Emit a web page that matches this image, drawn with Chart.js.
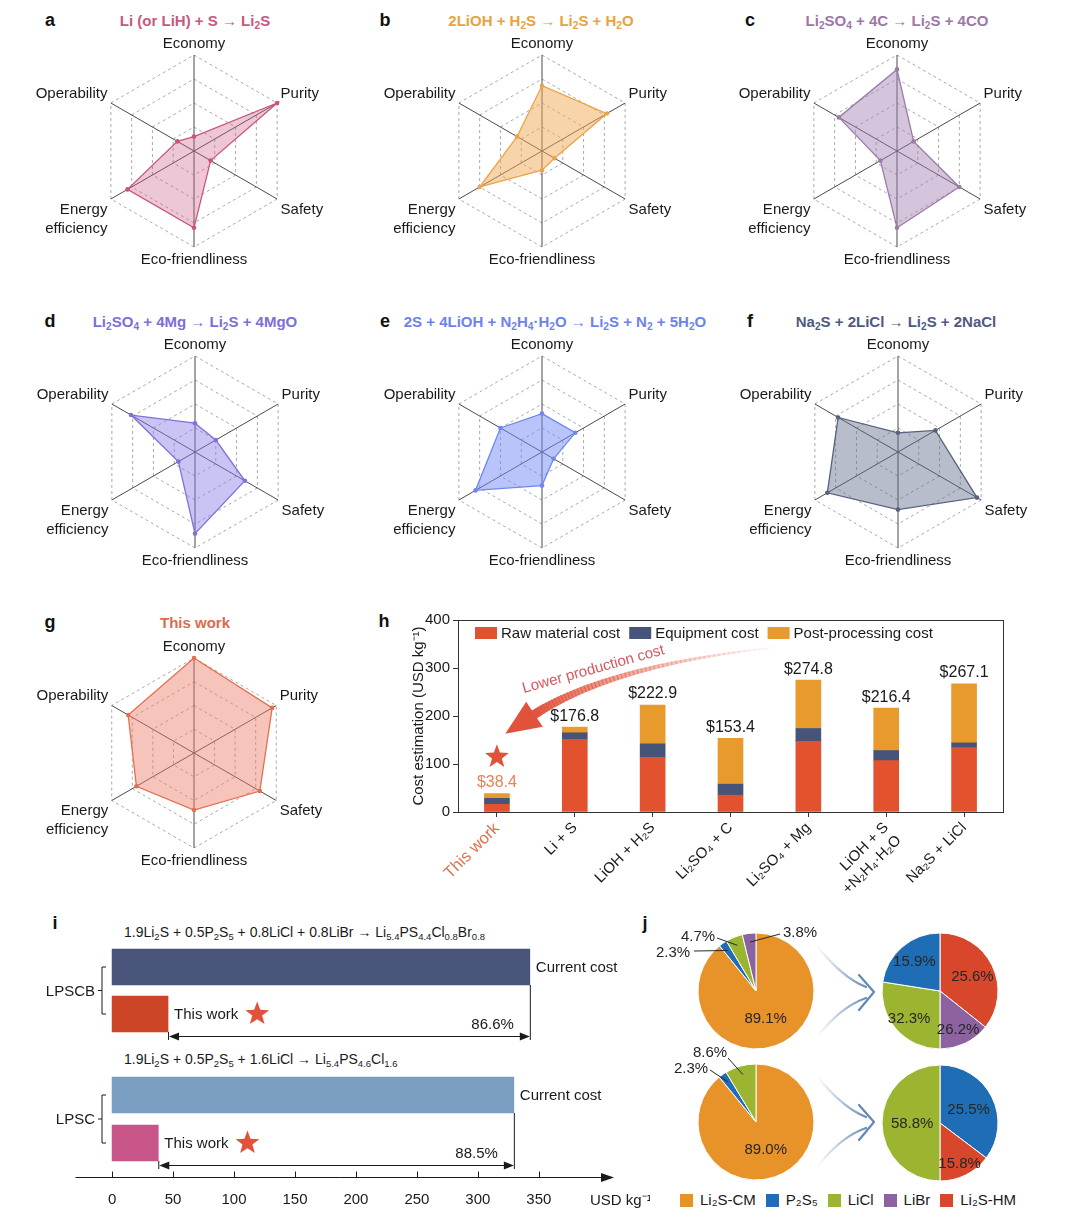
<!DOCTYPE html>
<html><head><meta charset="utf-8">
<script src="https://cdn.jsdelivr.net/npm/chart.js@4.4.1/dist/chart.umd.min.js"></script>
<style>
html,body{margin:0;padding:0;background:#fff;}
body{width:1080px;height:1220px;position:relative;overflow:hidden;font-family:"Liberation Sans",Arial,Helvetica,sans-serif;color:#1a1a1a;}
canvas{position:absolute;}
.t{position:absolute;white-space:nowrap;line-height:1;}
.lt{font-weight:bold;font-size:18px;color:#111;transform:translate(-50%,-50%);}
.ttl{font-weight:bold;font-size:15px;transform:translate(-50%,-50%);}
sub{font-size:68%;vertical-align:-0.3em;line-height:0;}
.fx{font-size:14px;transform:translateY(-50%);}
#jleg{position:absolute;left:680px;top:1191px;display:flex;align-items:center;font-size:15px;line-height:18px;}
#jleg .it{display:flex;align-items:center;margin-right:10px;}
#jleg .sq{width:13px;height:13px;margin-right:7px;}
svg{position:absolute;left:0;top:0;}
</style></head><body>

<div class="t lt" style="left:50px;top:20px">a</div>
<div class="t lt" style="left:385px;top:20px">b</div>
<div class="t lt" style="left:750px;top:20px">c</div>
<div class="t lt" style="left:50px;top:321px">d</div>
<div class="t lt" style="left:385px;top:321px">e</div>
<div class="t lt" style="left:750px;top:321px">f</div>
<div class="t lt" style="left:50px;top:622px">g</div>
<div class="t lt" style="left:384px;top:621px">h</div>
<div class="t lt" style="left:55px;top:923px">i</div>
<div class="t lt" style="left:645px;top:923px">j</div>

<div class="t ttl" style="left:195px;top:20px;color:#C9577F">Li (or LiH) + S → Li<sub>2</sub>S</div>
<div class="t ttl" style="left:541px;top:20px;color:#E8A33B">2LiOH + H<sub>2</sub>S → Li<sub>2</sub>S + H<sub>2</sub>O</div>
<div class="t ttl" style="left:897px;top:20px;color:#9D77A6">Li<sub>2</sub>SO<sub>4</sub> + 4C → Li<sub>2</sub>S + 4CO</div>
<div class="t ttl" style="left:195px;top:321px;color:#7B6FD8">Li<sub>2</sub>SO<sub>4</sub> + 4Mg → Li<sub>2</sub>S + 4MgO</div>
<div class="t ttl" style="left:555px;top:321px;color:#6C83EE">2S + 4LiOH + N<sub>2</sub>H<sub>4</sub>·H<sub>2</sub>O → Li<sub>2</sub>S + N<sub>2</sub> + 5H<sub>2</sub>O</div>
<div class="t ttl" style="left:896px;top:321px;color:#4F5A7F">Na<sub>2</sub>S + 2LiCl → Li<sub>2</sub>S + 2NaCl</div>
<div class="t ttl" style="left:195px;top:622px;color:#E06A4C">This work</div>

<div class="t fx" style="left:124px;top:932px">1.9Li<sub>2</sub>S + 0.5P<sub>2</sub>S<sub>5</sub> + 0.8LiCl + 0.8LiBr → Li<sub>5.4</sub>PS<sub>4.4</sub>Cl<sub>0.8</sub>Br<sub>0.8</sub></div>
<div class="t fx" style="left:124px;top:1059px">1.9Li<sub>2</sub>S + 0.5P<sub>2</sub>S<sub>5</sub> + 1.6LiCl → Li<sub>5.4</sub>PS<sub>4.6</sub>Cl<sub>1.6</sub></div>

<div id="jleg"></div>

<script>
// ---------------- DATA ----------------
const AXES = ['Economy', 'Purity', 'Safety', 'Eco-friendliness', ['Energy', 'efficiency'], 'Operability'];
const scoreA = [15, 100, 20, 80, 80, 20];
const scoreB = [68, 78, 15, 20, 75, 30];
const scoreC = [85, 20, 75, 80, 20, 70];
const scoreD = [30, 25, 60, 85, 20, 77];
const scoreE = [40, 40, 14, 35, 80, 50];
const scoreF = [20, 45, 95, 60, 85, 72];
const scoreG = [100, 95, 80, 60, 70, 80];

const routes = ['This work', 'Li + S', 'LiOH + H₂S', 'Li₂SO₄ + C', 'Li₂SO₄ + Mg', ['LiOH + S', '+N₂H₄·H₂O'], 'Na₂S + LiCl'];
const rawCost = [16, 151, 114, 35, 147, 107, 134];
const equipCost = [12.5, 14, 28, 23, 27, 21, 10];
const postCost = [9.9, 11.8, 80.9, 95.4, 100.8, 88.4, 123.1];
const costTicks = [0, 100, 200, 300, 400];

const iRows = ['Current cost', 'This work'];
const lpscbCost = [342.6, 45.9];
const lpscCost = [329.5, 37.9];
const iReduction = ['86.6%', '88.5%'];
const iGroups = ['LPSCB', 'LPSC'];
const iTicks = [0, 50, 100, 150, 200, 250, 300, 350];

const jLegend = ['Li₂S-CM', 'P₂S₅', 'LiCl', 'LiBr', 'Li₂S-HM'];
const lpscbMass = [89.1, 2.3, 4.7, 3.8];          // Li2S-CM, P2S5, LiCl, LiBr
const lpscbMassLbl = ['89.1%', '2.3%', '4.7%', '3.8%'];
const lpscbShare = [35.7, 14.3, 27.5, 22.5];      // Li2S-HM, LiBr, LiCl, P2S5
const lpscbShareLbl = ['25.6%', '26.2%', '32.3%', '15.9%'];
const lpscMass = [89.0, 2.3, 8.6];                // Li2S-CM, P2S5, LiCl
const lpscMassLbl = ['89.0%', '2.3%', '8.6%'];
const lpscShare = [35.3, 14.7, 50.0];             // P2S5, Li2S-HM, LiCl
const lpscShareLbl = ['25.5%', '15.8%', '58.8%'];

// ---------------- STYLE ----------------
const FONT = '"Liberation Sans", Arial, Helvetica, sans-serif';
Chart.defaults.font.family = FONT;
Chart.defaults.font.size = 15;
Chart.defaults.color = '#1a1a1a';
Chart.defaults.animation = false;
Chart.defaults.plugins.legend.display = false;
Chart.defaults.plugins.tooltip.enabled = false;

const C = {cm:'#E8922A', p:'#1F6DB5', licl:'#9CB531', libr:'#8C62A1', hm:'#D8472B'};

function mkCanvas(left, top, w, h) {
  const c = document.createElement('canvas');
  c.width = w; c.height = h;
  c.style.left = left + 'px'; c.style.top = top + 'px';
  c.style.width = w + 'px'; c.style.height = h + 'px';
  document.body.appendChild(c);
  return c;
}
function star(ctx, x, y, R, r, color) {
  ctx.beginPath();
  for (let k = 0; k < 10; k++) {
    const a = -Math.PI / 2 + k * Math.PI / 5, rr = (k % 2) ? r : R;
    ctx.lineTo(x + rr * Math.cos(a), y + rr * Math.sin(a));
  }
  ctx.closePath(); ctx.fillStyle = color; ctx.fill();
}

// ---------------- RADARS ----------------
const radarLabelPlugin = {
  id: 'radarLabels',
  afterDraw(chart) {
    const sc = chart.scales.r, ctx = chart.ctx, n = chart.data.labels.length;
    ctx.save();
    ctx.font = '15px ' + FONT; ctx.fillStyle = '#1a1a1a'; ctx.textBaseline = 'top';
    chart.data.labels.forEach((lab, i) => {
      const p = sc.getPointPosition(i, sc.drawingArea + 4);
      const ang = Math.round(i * 360 / n);
      const lines = Array.isArray(lab) ? lab : [lab];
      const lh = 19, h = lines.length * lh;
      ctx.textAlign = (ang === 0 || ang === 180) ? 'center' : (ang < 180 ? 'left' : 'right');
      let y = p.y;
      if (ang === 90 || ang === 270) y -= h / 2; else if (ang > 270 || ang < 90) y -= h - 3;
      lines.forEach((l, k) => ctx.fillText(l, p.x, y + k * lh + 1));
    });
    ctx.restore();
  }
};
function radar(cx, cy, R, data, line, fill) {
  const W = 340, H = 250;
  const c = mkCanvas(cx - 170, cy - 125, W, H);
  return new Chart(c, {
    type: 'radar',
    data: {labels: AXES, datasets: [{data, borderColor: line, backgroundColor: fill, borderWidth: 1.3,
      pointRadius: 2.3, pointHoverRadius: 2.3, pointBackgroundColor: line, pointBorderColor: line, pointBorderWidth: 0, fill: true}]},
    options: {responsive: false, animation: false,
      layout: {padding: {left: 170 - R, right: W - 170 - R, top: 125 - R, bottom: H - 125 - R}},
      scales: {r: {min: 0, max: 100, ticks: {display: false, stepSize: 25}, pointLabels: {display: false},
        grid: {color: '#a9a9a9', lineWidth: 1, borderDash: [3, 3]}, border: {dash: [3, 3]},
        angleLines: {color: '#4a4a4a', lineWidth: 1}}}},
    plugins: [radarLabelPlugin]
  });
}
radar(194, 151, 96, scoreA, '#C9557F', 'rgba(205,95,140,0.35)');
radar(542, 151, 96, scoreB, '#EAA54A', 'rgba(242,170,85,0.5)');
radar(897, 151, 96, scoreC, '#9B7BA8', 'rgba(160,125,178,0.45)');
radar(195, 452, 96, scoreD, '#7F72DA', 'rgba(135,125,230,0.45)');
radar(542, 452, 96, scoreE, '#6F87F0', 'rgba(115,140,245,0.5)');
radar(898, 452, 96, scoreF, '#56627F', 'rgba(95,108,138,0.45)');
radar(194, 753, 95, scoreG, '#E2704F', 'rgba(238,125,105,0.45)');

// ---------------- H: stacked bars ----------------
const hDecor = {
  id: 'hDecor',
  afterDatasetsDraw(chart) {
    const ctx = chart.ctx, xs = chart.scales.x, ys = chart.scales.y, ca = chart.chartArea;
    ctx.save();
    // frame
    ctx.strokeStyle = '#333'; ctx.lineWidth = 1;
    ctx.strokeRect(ca.left + 0.5, ca.top + 0.5, ca.right - ca.left, ca.bottom - ca.top);
    // totals
    ctx.textAlign = 'center'; ctx.textBaseline = 'bottom'; ctx.font = '16px ' + FONT;
    chart.data.labels.forEach((l, i) => {
      const tot = chart.data.datasets.reduce((s, d) => s + d.data[i], 0);
      ctx.fillStyle = i === 0 ? '#E8825A' : '#1a1a1a';
      ctx.fillText('$' + tot.toFixed(1), xs.getPixelForValue(i), ys.getPixelForValue(tot) - 3);
    });
    // legend
    let lx = ca.left + 17; const ly = ca.top + 13;
    ctx.font = '15px ' + FONT; ctx.textAlign = 'left'; ctx.textBaseline = 'middle';
    chart.data.datasets.forEach(d => {
      ctx.fillStyle = d.backgroundColor; ctx.fillRect(lx, ly - 6, 22, 12);
      ctx.fillStyle = '#1a1a1a'; ctx.fillText(d.label, lx + 26, ly + 1);
      lx += 26 + ctx.measureText(d.label).width + 9;
    });
    // curved gradient arrow
    const P0 = {x: xs.getPixelForValue(3.53), y: ys.getPixelForValue(342)};
    const Q = {x: xs.getPixelForValue(1.43), y: ys.getPixelForValue(305)};
    const P2 = {x: xs.getPixelForValue(0.45), y: ys.getPixelForValue(200)};
    const bez = t => ({x: (1-t)*(1-t)*P0.x + 2*t*(1-t)*Q.x + t*t*P2.x, y: (1-t)*(1-t)*P0.y + 2*t*(1-t)*Q.y + t*t*P2.y});
    const N = 60;
    ctx.lineCap = 'butt';
    for (let k = 0; k < N; k++) {
      const t0 = k / N, t1 = (k + 1.3) / N, a = bez(t0), b = bez(Math.min(1, t1));
      const t = (k + 0.5) / N;
      ctx.strokeStyle = 'rgba(224,82,60,' + (0.05 + 0.95 * Math.pow(t, 1.1)).toFixed(3) + ')';
      ctx.lineWidth = 1.5 + 8 * Math.pow(t, 1.2);
      ctx.beginPath(); ctx.moveTo(a.x, a.y); ctx.lineTo(b.x, b.y); ctx.stroke();
    }
    let dx = P2.x - Q.x, dy = P2.y - Q.y; const dl = Math.hypot(dx, dy); dx /= dl; dy /= dl;
    const tip = {x: P2.x + dx * 32, y: P2.y + dy * 32};
    ctx.fillStyle = 'rgb(224,82,60)';
    ctx.beginPath(); ctx.moveTo(tip.x, tip.y);
    ctx.lineTo(P2.x - dx * 3 - dy * 15, P2.y - dy * 3 + dx * 15);
    ctx.lineTo(P2.x - dx * 3 + dy * 15, P2.y - dy * 3 - dx * 15);
    ctx.closePath(); ctx.fill();
    // annotation text
    ctx.save();
    ctx.translate(xs.getPixelForValue(1.24), ys.getPixelForValue(297));
    ctx.rotate(-15.5 * Math.PI / 180);
    ctx.fillStyle = '#D9575F'; ctx.textAlign = 'center'; ctx.textBaseline = 'middle'; ctx.font = '15px ' + FONT;
    ctx.fillText('Lower production cost', 0, 0);
    ctx.restore();
    // star
    star(ctx, xs.getPixelForValue(0), ys.getPixelForValue(115), 12.5, 5.2, '#E0523A');
    ctx.restore();
  }
};
new Chart(mkCanvas(404, 605, 610, 295), {
  type: 'bar',
  data: {labels: routes, datasets: [
    {label: 'Raw material cost', data: rawCost, backgroundColor: '#E2522F', barThickness: 25},
    {label: 'Equipment cost', data: equipCost, backgroundColor: '#465479', barThickness: 25},
    {label: 'Post-processing cost', data: postCost, backgroundColor: '#E89A2C', barThickness: 25}
  ]},
  options: {responsive: false, animation: false,
    layout: {padding: {left: 0, right: 11, top: 15, bottom: 0}},
    scales: {
      x: {stacked: true, afterFit: s => { s.height = 88; },
        grid: {display: true, drawOnChartArea: false, drawTicks: true, tickLength: 5, color: '#333', offset: false},
        border: {color: '#333'},
        ticks: {autoSkip: false, minRotation: 45, maxRotation: 45, padding: 2,
          color: c => c.index === 0 ? '#E0714F' : '#1a1a1a',
          font: c => ({size: c.index === 0 ? 16.5 : 15, family: FONT})}},
      y: {stacked: true, min: 0, max: 400, afterFit: s => { s.width = 54; },
        afterBuildTicks: s => { s.ticks = costTicks.map(v => ({value: v})); },
        grid: {display: true, drawOnChartArea: false, drawTicks: true, tickLength: 5, color: '#333'},
        border: {color: '#333'},
        ticks: {padding: 3, font: {size: 15}},
        title: {display: true, text: 'Cost estimation (USD kg⁻¹)', font: {size: 15}, padding: {top: 6, bottom: 2}}}
    }},
  plugins: [hDecor]
});

// ---------------- I: horizontal bars ----------------
function iDecor(group, pct, withAxis) {
  return {
    id: 'iDecor',
    afterDatasetsDraw(chart) {
      const ctx = chart.ctx, ca = chart.chartArea, meta = chart.getDatasetMeta(0);
      const b0 = meta.data[0], b1 = meta.data[1];
      ctx.save();
      ctx.fillStyle = '#1a1a1a'; ctx.strokeStyle = '#1a1a1a'; ctx.lineWidth = 1;
      ctx.font = '15px ' + FONT; ctx.textBaseline = 'middle'; ctx.textAlign = 'left';
      ctx.fillText(chart.data.labels[0], b0.x + 6, b0.y + 1);
      ctx.fillText(chart.data.labels[1], b1.x + 6, b1.y + 1);
      const tw = ctx.measureText(chart.data.labels[1]).width;
      star(ctx, b1.x + 6 + tw + 19, b1.y, 12.5, 5.2, '#E0523A');
      ctx.fillStyle = '#1a1a1a';
      const ay = b1.y + 22;
      ctx.beginPath();
      ctx.moveTo(b1.x + 0.5, b1.y + b1.height / 2); ctx.lineTo(b1.x + 0.5, ay + 4);
      ctx.moveTo(b0.x + 0.5, b0.y + b0.height / 2); ctx.lineTo(b0.x + 0.5, ay + 4);
      ctx.moveTo(b1.x + 4, ay + 0.5); ctx.lineTo(b0.x - 4, ay + 0.5);
      ctx.stroke();
      ctx.beginPath();
      ctx.moveTo(b0.x, ay + 0.5); ctx.lineTo(b0.x - 10, ay - 3.5); ctx.lineTo(b0.x - 10, ay + 4.5); ctx.closePath();
      ctx.moveTo(b1.x + 1, ay + 0.5); ctx.lineTo(b1.x + 11, ay - 3.5); ctx.lineTo(b1.x + 11, ay + 4.5); ctx.closePath();
      ctx.fill();
      ctx.textAlign = 'right';
      ctx.fillText(pct, b0.x - 16, ay - 11);
      // bracket + group label
      const bx = ca.left + 26.5, my = (b0.y + b1.y) / 2;
      ctx.beginPath();
      ctx.moveTo(bx + 4, b0.y); ctx.lineTo(bx, b0.y); ctx.lineTo(bx, b1.y); ctx.lineTo(bx + 4, b1.y);
      ctx.moveTo(bx, my); ctx.lineTo(bx - 4, my);
      ctx.stroke();
      ctx.fillText(group, bx - 7, my + 1);
      if (withAxis) {
        const xs = chart.scales.x, y = ca.bottom + 10.5;
        ctx.beginPath(); ctx.moveTo(ca.left, y); ctx.lineTo(ca.right - 6, y);
        iTicks.forEach(v => { const px = Math.round(xs.getPixelForValue(v)) + 0.5; ctx.moveTo(px, y); ctx.lineTo(px, y - 6); });
        ctx.stroke();
        ctx.beginPath(); ctx.moveTo(ca.right + 2, y); ctx.lineTo(ca.right - 11, y - 4.5); ctx.lineTo(ca.right - 11, y + 4.5); ctx.closePath(); ctx.fill();
        ctx.textAlign = 'left';
        ctx.fillText('USD kg⁻¹', ca.right - 22, y + 23);
      }
      ctx.restore();
    }
  };
}
function iChart(left, top, w, h, data, colors, pad, withAxis, group, pct) {
  return new Chart(mkCanvas(left, top, w, h), {
    type: 'bar',
    data: {labels: iRows, datasets: [{data, backgroundColor: colors, barThickness: 36}]},
    options: {responsive: false, animation: false, indexAxis: 'y',
      layout: {padding: pad},
      scales: {
        y: {display: false},
        x: {min: -30, max: 410, display: withAxis,
          afterBuildTicks: s => { s.ticks = iTicks.map(v => ({value: v})); },
          afterFit: s => { s.height = withAxis ? 53 : 0; },
          grid: {display: false, drawTicks: false}, border: {display: false},
          ticks: {padding: 24, font: {size: 15}, maxRotation: 0}}
      }},
    plugins: [iDecor(group, pct, withAxis)]
  });
}
iChart(30, 935, 620, 115, lpscbCost, ['#485479', '#CC4426'], {left: 45.5, right: 38, top: 8.5, bottom: 12.5}, false, iGroups[0], iReduction[0]);
iChart(30, 1060, 620, 160, lpscCost, ['#7A9FC2', '#C85587'], {left: 45.5, right: 38, top: 11, bottom: 0}, true, iGroups[1], iReduction[1]);

// ---------------- J: pies ----------------
const pieLabels = {
  id: 'pieLabels',
  afterDraw(chart, args, opts) {
    const ctx = chart.ctx, meta = chart.getDatasetMeta(0);
    ctx.save();
    ctx.font = '15px ' + FONT; ctx.fillStyle = '#262626'; ctx.strokeStyle = '#262626'; ctx.lineWidth = 1;
    ctx.textAlign = 'center'; ctx.textBaseline = 'middle';
    meta.data.forEach((arc, i) => {
      const p = opts.place[i];
      const {x, y, startAngle, endAngle, outerRadius} = arc.getProps(['x', 'y', 'startAngle', 'endAngle', 'outerRadius'], true);
      const mid = (startAngle + endAngle) / 2;
      if (p.r) {
        ctx.fillText(opts.texts[i], x + Math.cos(mid) * outerRadius * p.r, y + Math.sin(mid) * outerRadius * p.r + 1);
      } else {
        const ax = x + Math.cos(mid) * outerRadius * 0.85, ay = y + Math.sin(mid) * outerRadius * 0.85;
        ctx.beginPath(); ctx.moveTo(x + p.lx, y + p.ly); ctx.lineTo(ax, ay); ctx.stroke();
        ctx.fillText(opts.texts[i], x + p.dx, y + p.dy);
      }
    });
    ctx.restore();
  }
};
function pie(left, top, w, h, data, colors, texts, place) {
  return new Chart(mkCanvas(left, top, w, h), {
    type: 'pie',
    data: {labels: texts, datasets: [{data, backgroundColor: colors, borderColor: '#fff', borderWidth: 1, radius: 58}]},
    options: {responsive: false, animation: false, plugins: {pieLabels: {texts, place}}},
    plugins: [pieLabels]
  });
}
pie(656, 916, 200, 150, lpscbMass, [C.cm, C.p, C.licl, C.libr], lpscbMassLbl,
  [{r: 0.5}, {dx: -83, dy: -38, lx: -62, ly: -40}, {dx: -58, dy: -54, lx: -39, ly: -53}, {dx: 44, dy: -58, lx: 24, ly: -57}]);
pie(865, 916, 150, 150, lpscbShare, [C.hm, C.libr, C.licl, C.p], lpscbShareLbl,
  [{r: 0.62}, {r: 0.72}, {r: 0.7}, {r: 0.68}]);
pie(656, 1037, 200, 170, lpscMass, [C.cm, C.p, C.licl], lpscMassLbl,
  [{r: 0.5}, {dx: -65, dy: -53, lx: -46, ly: -52}, {dx: -46, dy: -69, lx: -28, ly: -64}]);
pie(865, 1048, 150, 150, lpscShare, [C.p, C.hm, C.licl], lpscShareLbl,
  [{r: 0.55}, {r: 0.76}, {r: 0.48}]);

// legend j
const legColors = [C.cm, C.p, C.licl, C.libr, C.hm];
const leg = document.getElementById('jleg');
jLegend.forEach((t, i) => {
  const it = document.createElement('div'); it.className = 'it';
  it.innerHTML = '<span class="sq" style="background:' + legColors[i] + '"></span><span>' + t + '</span>';
  leg.appendChild(it);
});
</script>

<svg width="1080" height="1220" viewBox="0 0 1080 1220">
  <defs>
    <linearGradient id="gu" gradientUnits="userSpaceOnUse" x1="817" y1="946" x2="868" y2="990">
      <stop offset="0" stop-color="#7d9cc4" stop-opacity="0"/><stop offset="1" stop-color="#5f86b6" stop-opacity="1"/></linearGradient>
    <linearGradient id="gl" gradientUnits="userSpaceOnUse" x1="817" y1="1037" x2="868" y2="996">
      <stop offset="0" stop-color="#7d9cc4" stop-opacity="0"/><stop offset="1" stop-color="#5f86b6" stop-opacity="1"/></linearGradient>
    <linearGradient id="gu2" gradientUnits="userSpaceOnUse" x1="817" y1="1076" x2="868" y2="1120">
      <stop offset="0" stop-color="#7d9cc4" stop-opacity="0"/><stop offset="1" stop-color="#5f86b6" stop-opacity="1"/></linearGradient>
    <linearGradient id="gl2" gradientUnits="userSpaceOnUse" x1="817" y1="1167" x2="868" y2="1126">
      <stop offset="0" stop-color="#7d9cc4" stop-opacity="0"/><stop offset="1" stop-color="#5f86b6" stop-opacity="1"/></linearGradient>
  </defs>
  <g fill="none" stroke-width="2.2" stroke-linecap="round" stroke-linejoin="round">
    <path d="M817 946 C 833 966, 848 980, 866 987" stroke="url(#gu)"/>
    <path d="M817 1037 C 832 1018, 848 1004, 866 998" stroke="url(#gl)"/>
    <path d="M859 975 L 874 992 L 859 1010" stroke="#6388b6"/>
    <path d="M817 1076 C 833 1096, 848 1110, 866 1117" stroke="url(#gu2)"/>
    <path d="M817 1167 C 832 1148, 848 1134, 866 1128" stroke="url(#gl2)"/>
    <path d="M859 1105 L 874 1122 L 859 1140" stroke="#6388b6"/>
  </g>
</svg>
</body></html>
